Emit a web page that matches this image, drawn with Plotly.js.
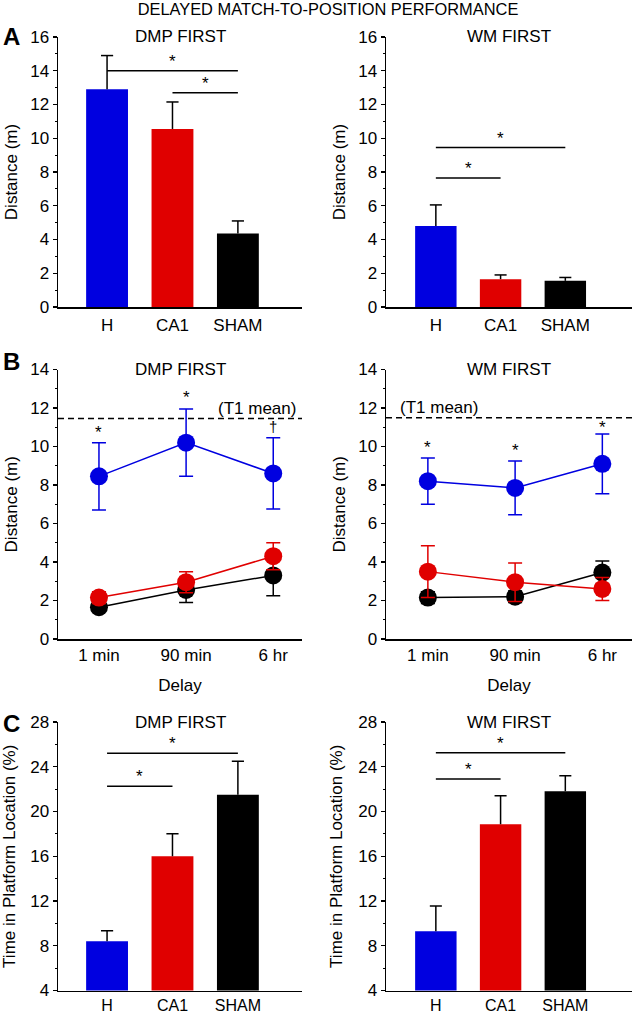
<!DOCTYPE html>
<html>
<head>
<meta charset="utf-8">
<script src="https://cdn.plot.ly/plotly-3.0.1.min.js"></script>
<style>html,body{margin:0;padding:0;background:#fff;}#chart{width:633px;height:1015px;}</style>
</head>
<body>
<div id="chart"></div>
<script>
// ---------- DATA ----------
const groups = ['H', 'CA1', 'SHAM'];
const delays = ['1 min', '90 min', '6 hr'];

// Panel A: distance (m), mean and SEM
const dmpDist = [12.9, 10.55, 4.35];
const dmpDistErr = [2.0, 1.6, 0.75];
const wmDist = [4.8, 1.65, 1.55];
const wmDistErr = [1.25, 0.25, 0.2];

// Panel B: distance (m) by delay
const dmpH = [8.45, 10.2, 8.6];
const dmpHErr = [1.75, 1.75, 1.85];
const dmpCA1 = [2.15, 2.95, 4.3];
const dmpCA1Err = [0.3, 0.55, 0.7];
const dmpSHAM = [1.65, 2.55, 3.3];
const dmpSHAMErr = [0.2, 0.65, 1.05];
const wmH = [8.2, 7.85, 9.1];
const wmHErr = [1.2, 1.4, 1.55];
const wmCA1 = [3.5, 2.95, 2.6];
const wmCA1Err = [1.35, 1.0, 0.6];
const wmSHAM = [2.15, 2.2, 3.45];
const wmSHAMErr = [0.3, 0.3, 0.6];
const t1Mean = [11.45, 11.5];
const dmpBMarks = ['*', '*', '†'];
const dmpBMarkLevel = [10.85, 12.65, 10.9];
const wmBMarks = ['*', '*', '*'];
const wmBMarkLevel = [10.1, 9.9, 11.1];

// Panel C: time in platform location (%)
const dmpTime = [8.4, 16.0, 21.5];
const dmpTimeErr = [0.95, 2.0, 3.0];
const wmTime = [9.3, 18.85, 21.8];
const wmTimeErr = [2.25, 2.55, 1.4];

// Significance comparisons: [from group, to group, bracket level]
const sigA_dmp = [[0, 2, 14.0], [1, 2, 12.7]];
const sigA_wm = [[0, 2, 9.45], [0, 1, 7.65]];
const sigC_dmp = [[0, 2, 25.2], [0, 1, 22.25]];
const sigC_wm = [[0, 2, 25.25], [0, 1, 22.9]];

// ---------- STYLE ----------
const FONT = 'Liberation Sans, Arial, Helvetica, sans-serif';
const FS = 17;
const BLUE = '#0000e0', RED = '#e00000', BLACK = '#000000';
const groupColors = [BLUE, RED, BLACK];
const W = 633, H = 1015;
const px = v => v / W;
const py = v => 1 - v / H;

const xL = [px(58), px(302)], xR = [px(386), px(632)];
const yA = [py(307), py(37)], yB = [py(639), py(369.5)], yC = [py(990.5), py(722)];

const gIdx = groups.map((_, i) => i);
const dIdx = delays.map((_, i) => i);

function barTraces(vals, errs, xa, ya) {
  const bar = {
    type: 'bar', x: gIdx, y: vals, xaxis: xa, yaxis: ya,
    width: 0.64, showlegend: false,
    marker: {color: groupColors, line: {width: 0}}
  };
  // upper-only error whiskers (vertical stem + top cap)
  const halfCap = 0.093;
  const wx = [], wy = [];
  vals.forEach((v, i) => {
    const t = v + errs[i];
    wx.push(i, i, null, i - halfCap, i + halfCap, null);
    wy.push(v, t, null, t, t, null);
  });
  const whisk = {
    type: 'scatter', mode: 'lines', x: wx, y: wy, xaxis: xa, yaxis: ya,
    showlegend: false, line: {color: BLACK, width: 1.5}, hoverinfo: 'skip'
  };
  return [bar, whisk];
}
function lineTrace(vals, errs, color, xa, ya) {
  return {
    type: 'scatter', mode: 'lines+markers', x: dIdx, y: vals, xaxis: xa, yaxis: ya,
    showlegend: false,
    line: {color: color, width: 1.5},
    marker: {color: color, size: 18},
    error_y: {type: 'data', array: errs, color: color, thickness: 1.5, width: 7}
  };
}

const traces = [].concat(
  barTraces(dmpDist, dmpDistErr, 'x', 'y'),
  barTraces(wmDist, wmDistErr, 'x2', 'y2'),
  [lineTrace(dmpSHAM, dmpSHAMErr, BLACK, 'x3', 'y3'),
   lineTrace(dmpCA1, dmpCA1Err, RED, 'x3', 'y3'),
   lineTrace(dmpH, dmpHErr, BLUE, 'x3', 'y3'),
   lineTrace(wmSHAM, wmSHAMErr, BLACK, 'x4', 'y4'),
   lineTrace(wmCA1, wmCA1Err, RED, 'x4', 'y4'),
   lineTrace(wmH, wmHErr, BLUE, 'x4', 'y4')],
  barTraces(dmpTime, dmpTimeErr, 'x5', 'y5'),
  barTraces(wmTime, wmTimeErr, 'x6', 'y6')
);

function yax(domain, range, dtick, minorDtick, title, anchor, standoff) {
  return {
    domain: domain, range: range, dtick: dtick, tick0: range[0], anchor: anchor,
    showline: true, linecolor: BLACK, linewidth: 1.5,
    ticks: 'outside', ticklen: 4, tickwidth: 1.2, tickcolor: BLACK,
    minor: {ticks: 'outside', ticklen: 2, tickwidth: 1, tickcolor: BLACK, dtick: minorDtick, tick0: range[0]},
    showgrid: false, zeroline: false,
    tickfont: {family: FONT, size: FS, color: BLACK},
    title: {text: title, font: {family: FONT, size: FS, color: BLACK}, standoff: standoff},
    fixedrange: true
  };
}
function xax(domain, range, anchor, labels, title, lblStandoff, lblSize) {
  const a = {
    domain: domain, range: range, anchor: anchor,
    tickmode: 'array', tickvals: labels.map((_, i) => i), ticktext: labels,
    showline: true, linecolor: BLACK, linewidth: 1.5,
    ticks: '', showgrid: false, zeroline: false, ticklabelstandoff: lblStandoff,
    tickfont: {family: FONT, size: lblSize || FS, color: BLACK},
    fixedrange: true
  };
  if (title) a.title = {text: title, font: {family: FONT, size: FS, color: BLACK}, standoff: 15};
  return a;
}

const shapes = [];
const annotations = [];

function addSig(list, xa, ya) {
  list.forEach(s => {
    shapes.push({type: 'line', xref: xa, yref: ya, x0: s[0], x1: s[1], y0: s[2], y1: s[2],
      line: {color: BLACK, width: 1.5}});
    annotations.push({xref: xa, yref: ya, x: (s[0] + s[1]) / 2, y: s[2], text: '*',
      showarrow: false, yanchor: 'bottom', yshift: -2, font: {family: FONT, size: FS, color: BLACK}});
  });
}
addSig(sigA_dmp, 'x', 'y');
addSig(sigA_wm, 'x2', 'y2');
addSig(sigC_dmp, 'x5', 'y5');
addSig(sigC_wm, 'x6', 'y6');

// T1 mean dashed lines
shapes.push({type: 'line', xref: 'x3 domain', yref: 'y3', x0: 0, x1: 1, y0: t1Mean[0], y1: t1Mean[0],
  line: {color: BLACK, width: 1.5, dash: '6px,4px'}});
shapes.push({type: 'line', xref: 'x4 domain', yref: 'y4', x0: 0, x1: 1, y0: t1Mean[1], y1: t1Mean[1],
  line: {color: BLACK, width: 1.5, dash: '6px,4px'}});
annotations.push({xref: 'x3 domain', yref: 'y3', x: 1, y: t1Mean[0], text: '(T1 mean)', showarrow: false,
  xanchor: 'right', yanchor: 'bottom', xshift: -4, yshift: -1, font: {family: FONT, size: FS, color: BLACK}});
annotations.push({xref: 'x4 domain', yref: 'y4', x: 0, y: t1Mean[1], text: '(T1 mean)', showarrow: false,
  xanchor: 'left', yanchor: 'bottom', xshift: 12, yshift: -1, font: {family: FONT, size: FS, color: BLACK}});

// B significance marks above H error bars (level = centre of the mark)
function addMarks(marks, levels, xa, ya) {
  marks.forEach((m, i) => {
    annotations.push({xref: xa, yref: ya, x: dIdx[i], y: levels[i], text: m, showarrow: false,
      yanchor: 'bottom', yshift: m === '†' ? -8 : -14,
      font: {family: FONT, size: m === '†' ? 15 : FS, color: BLACK}});
  });
}
addMarks(dmpBMarks, dmpBMarkLevel, 'x3', 'y3');
addMarks(wmBMarks, wmBMarkLevel, 'x4', 'y4');

// subplot titles
[['x', 'y', 'DMP FIRST'], ['x2', 'y2', 'WM FIRST'], ['x3', 'y3', 'DMP FIRST'],
 ['x4', 'y4', 'WM FIRST'], ['x5', 'y5', 'DMP FIRST'], ['x6', 'y6', 'WM FIRST']].forEach(t => {
  annotations.push({xref: t[0] + ' domain', yref: t[1] + ' domain', x: 0.5, y: 1, text: t[2], showarrow: false,
    xanchor: 'center', yanchor: 'middle', font: {family: FONT, size: FS, color: BLACK}});
});

// panel letters
[['A', 36], ['B', 362], ['C', 723]].forEach(l => {
  annotations.push({xref: 'paper', yref: 'paper', x: px(1), y: py(l[1]), text: '<b>' + l[0] + '</b>',
    showarrow: false, xanchor: 'left', yanchor: 'middle', font: {family: FONT, size: 24, color: BLACK}});
});

const layout = {
  width: W, height: H,
  margin: {l: 0, r: 0, t: 0, b: 0},
  paper_bgcolor: '#fff', plot_bgcolor: 'rgba(0,0,0,0)',
  showlegend: false,
  font: {family: FONT, size: FS, color: BLACK},
  title: {text: 'DELAYED MATCH-TO-POSITION PERFORMANCE', x: px(328), xanchor: 'center',
    y: py(9), yanchor: 'middle', yref: 'paper', font: {family: FONT, size: 16.4, color: BLACK}},
  xaxis: xax(xL, [-0.75, 2.98], 'y', groups, null, 2),
  yaxis: yax(yA, [0, 16], 2, 1, 'Distance (m)', 'x', 8),
  xaxis2: xax(xR, [-0.77, 3.03], 'y2', groups, null, 2),
  yaxis2: yax(yA, [0, 16], 2, 1, 'Distance (m)', 'x2', 8),
  xaxis3: xax(xL, [-0.47, 2.33], 'y3', delays, 'Delay', 0),
  yaxis3: yax(yB, [0, 14], 2, 1, 'Distance (m)', 'x3', 8),
  xaxis4: xax(xR, [-0.48, 2.34], 'y4', delays, 'Delay', 0),
  yaxis4: yax(yB, [0, 14], 2, 1, 'Distance (m)', 'x4', 8),
  xaxis5: xax(xL, [-0.75, 2.98], 'y5', groups, null, 0, 16),
  yaxis5: yax(yC, [4, 28], 4, 2, 'Time in Platform Location (%)', 'x5', 11),
  xaxis6: xax(xR, [-0.77, 3.03], 'y6', groups, null, 0, 16),
  yaxis6: yax(yC, [4, 28], 4, 2, 'Time in Platform Location (%)', 'x6', 11),
  shapes: shapes,
  annotations: annotations
};

Plotly.newPlot('chart', traces, layout, {displayModeBar: false, staticPlot: true});
</script>
</body>
</html>
